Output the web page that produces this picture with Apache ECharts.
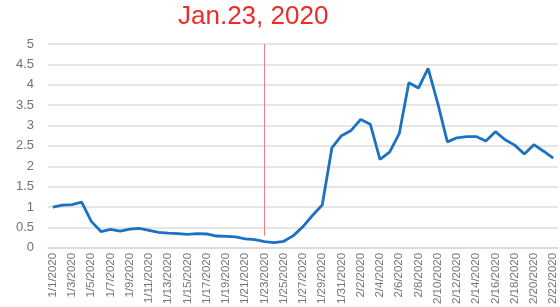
<!DOCTYPE html>
<html>
<head>
<meta charset="utf-8">
<script src="https://cdn.jsdelivr.net/npm/echarts@6/dist/echarts.min.js"></script>
<style>
  html, body { margin: 0; padding: 0; background: #fff; }
  #chart { width: 560px; height: 307px; }
</style>
</head>
<body>
<div id="chart"></div>
<script>
var dates = [
  '1/1/2020', '1/2/2020', '1/3/2020', '1/4/2020', '1/5/2020', '1/6/2020', '1/7/2020', '1/8/2020',
  '1/9/2020', '1/10/2020', '1/11/2020', '1/12/2020', '1/13/2020', '1/14/2020', '1/15/2020', '1/16/2020',
  '1/17/2020', '1/18/2020', '1/19/2020', '1/20/2020', '1/21/2020', '1/22/2020', '1/23/2020', '1/24/2020',
  '1/25/2020', '1/26/2020', '1/27/2020', '1/28/2020', '1/29/2020', '1/30/2020', '1/31/2020', '2/1/2020',
  '2/2/2020', '2/3/2020', '2/4/2020', '2/5/2020', '2/6/2020', '2/7/2020', '2/8/2020', '2/9/2020',
  '2/10/2020', '2/11/2020', '2/12/2020', '2/13/2020', '2/14/2020', '2/15/2020', '2/16/2020', '2/17/2020',
  '2/18/2020', '2/19/2020', '2/20/2020', '2/21/2020', '2/22/2020'
];

var values = [
  1.00, 1.05, 1.06, 1.12, 0.65, 0.40, 0.45, 0.41,
  0.46, 0.48, 0.43, 0.38, 0.36, 0.35, 0.33, 0.35,
  0.34, 0.29, 0.28, 0.27, 0.22, 0.20, 0.15, 0.13,
  0.16, 0.30, 0.52, 0.80, 1.05, 2.45, 2.75, 2.88,
  3.15, 3.03, 2.17, 2.35, 2.80, 4.05, 3.92, 4.40,
  3.55, 2.60, 2.70, 2.73, 2.73, 2.62, 2.85, 2.65,
  2.52, 2.30, 2.53, 2.37, 2.20
];

var markDate = '1/23/2020';
var markRange = [0.3, 5];
var titleText = 'Jan.23, 2020';

var chart = echarts.init(document.getElementById('chart'), null, { renderer: 'canvas' });

var option = {
  animation: false,
  textStyle: { fontFamily: 'Liberation Sans' },
  title: {
    text: titleText,
    left: 178,
    top: 4,
    padding: 0,
    textStyle: {
      color: '#ee2a2a',
      fontSize: 26,
      fontWeight: 'normal',
      fontFamily: 'Liberation Sans'
    }
  },
  grid: {
    left: 48,
    right: 2,
    top: 44,
    bottom: 56
  },
  xAxis: {
    type: 'category',
    data: dates,
    boundaryGap: true,
    axisLine: { lineStyle: { color: '#d9d9d9', width: 1.5 } },
    axisTick: { show: false },
    axisLabel: {
      interval: 1,
      rotate: 90,
      margin: 5,
      fontSize: 11.5,
      color: '#767676'
    }
  },
  yAxis: {
    type: 'value',
    min: 0,
    max: 5,
    interval: 0.5,
    axisLine: { show: false },
    axisTick: { show: false },
    axisLabel: {
      margin: 14,
      fontSize: 13,
      color: '#737373'
    },
    splitLine: { lineStyle: { color: '#dcdcdc', width: 1.5 } }
  },
  series: [{
    type: 'line',
    data: values,
    symbol: 'none',
    lineStyle: { color: '#1b72c1', width: 2.8 },
    markLine: {
      silent: true,
      symbol: 'none',
      label: { show: false },
      lineStyle: { color: '#f07a88', width: 1, type: 'solid' },
      data: [[
        { xAxis: markDate, yAxis: markRange[1] },
        { xAxis: markDate, yAxis: markRange[0] }
      ]]
    }
  }]
};

chart.setOption(option);
window.addEventListener('resize', chart.resize);
</script>
</body>
</html>
